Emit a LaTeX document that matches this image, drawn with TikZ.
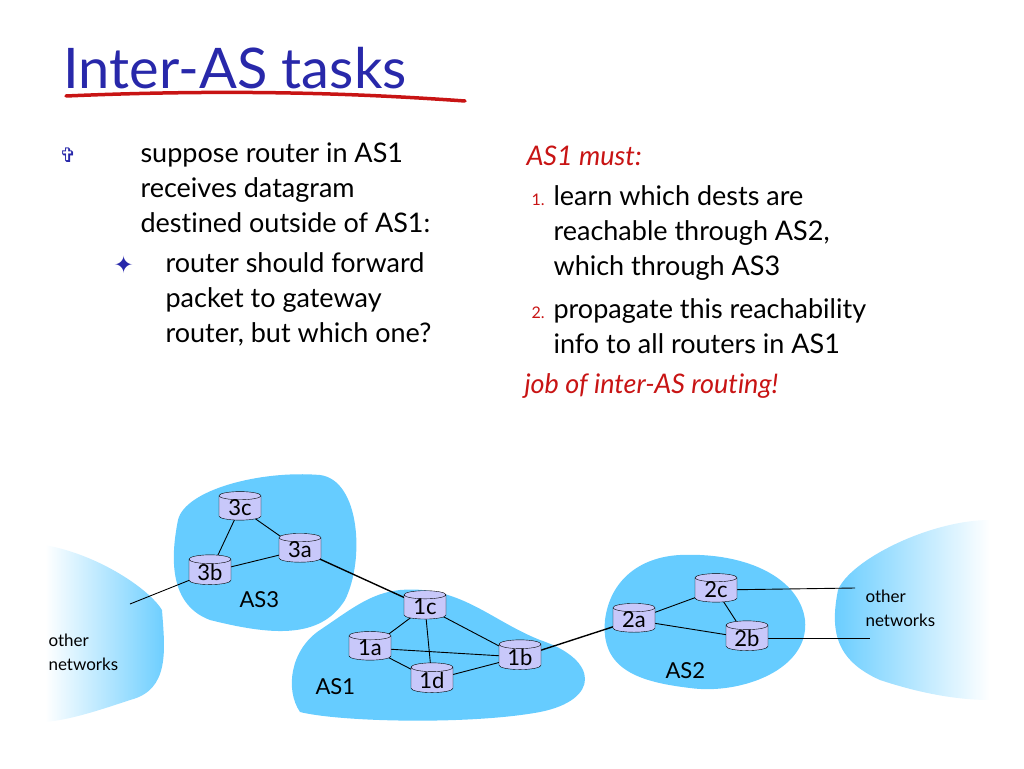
\documentclass[tikz,border=0pt]{standalone}
\usepackage{fontspec}
\setmainfont{Lato}[Ligatures={NoCommon,NoRare}]
\newfontfamily\symfont{DejaVu Sans}
\usetikzlibrary{shapes.geometric}
\definecolor{cloudblue}{RGB}{102,204,255}
\definecolor{routerfill}{RGB}{200,200,250}
\definecolor{titleblue}{RGB}{40,40,170}
\definecolor{mustred}{RGB}{200,20,20}
\begin{document}
\begin{tikzpicture}[x=1pt, y=-1pt,
    line/.style={anchor=base west, font=\fontsize{27}{33}\selectfont},
    redline/.style={line, text=mustred, font=\fontsize{27}{33}\selectfont\itshape},
    num/.style={anchor=base west, font=\fontsize{16}{18}\selectfont, text=mustred},
    cloud/.style={fill=cloudblue, draw=none},
    router/.style={cylinder, shape border rotate=90, aspect=0.35, draw, fill=routerfill,
        minimum width=42pt, minimum height=28pt, inner sep=0pt, font=\fontsize{22}{22}\selectfont},
    link/.style={draw, line width=0.9pt},
    small/.style={anchor=base west, font=\fontsize{17}{20}\selectfont}
]
    \useasboundingbox (0,0) rectangle (1024,768);
    % title
    \node[anchor=base west, text=titleblue, font=\fontsize{56}{60}\selectfont] (title) at (60,88) {Inter-AS tasks};
    \draw[mustred, line width=3.5pt, line cap=round] (66,96) .. controls (250,88) and (380,95) .. (465,101);
    % left column
    \node[anchor=base west, text=titleblue, font=\symfont\fontsize{20}{20}\selectfont] (b1) at (56,162) {✞};
    \node[line] (l1) at (137,162) {suppose router in AS1};
    \node[line] (l2) at (137,197) {receives datagram};
    \node[line] (l3) at (137,232) {destined outside of AS1:};
    \node[anchor=base west, text=titleblue, font=\symfont\fontsize{24}{24}\selectfont] (b2) at (110,273) {✦};
    \node[line] (l4) at (162,272) {router should forward};
    \node[line] (l5) at (162,307) {packet to gateway};
    \node[line] (l6) at (162,342) {router, but which one?};
    % right column
    \node[redline] (must) at (523,165) {AS1 must:};
    \node[num] (n1) at (528,205) {1.};
    \node[line] (r1) at (550,205) {learn which dests are};
    \node[line] (r2) at (550,240) {reachable through AS2,};
    \node[line] (r3) at (550,275) {which through AS3};
    \node[num] (n2) at (528,318) {2.};
    \node[line] (r4) at (550,318) {propagate this reachability};
    \node[line] (r5) at (550,353) {info to all routers in AS1};
    \node[redline] (job) at (521,393) {job of inter-AS routing!};

    % clouds
    \shade[left color=white, right color=cloudblue, draw=none]
        (45,545) .. controls (100,555) and (150,590) .. (162,610)
        .. controls (165,650) and (170,690) .. (130,700)
        .. controls (100,710) and (70,720) .. (45,722) -- cycle;
    \shade[left color=cloudblue, right color=white, draw=none]
        (990,520) .. controls (930,520) and (850,560) .. (838,590)
        .. controls (830,630) and (835,660) .. (880,680)
        .. controls (910,690) and (950,700) .. (990,700) -- cycle;
    \fill[cloud] (320,475) .. controls (360,480) and (365,560) .. (345,600)
        .. controls (320,640) and (270,635) .. (210,620)
        .. controls (170,605) and (170,560) .. (178,520)
        .. controls (185,490) and (260,470) .. (320,475) -- cycle;
    \fill[cloud] (400,590) .. controls (460,585) and (490,620) .. (540,640)
        .. controls (600,660) and (600,700) .. (540,712)
        .. controls (470,725) and (340,722) .. (300,712)
        .. controls (285,690) and (290,650) .. (320,630)
        .. controls (350,610) and (370,593) .. (400,590) -- cycle;
    \fill[cloud] (680,555) .. controls (750,552) and (800,580) .. (805,620)
        .. controls (810,670) and (740,695) .. (690,688)
        .. controls (640,682) and (600,670) .. (605,620)
        .. controls (610,580) and (640,557) .. (680,555) -- cycle;

    % links
    \coordinate (outl) at (130,604);
    \coordinate (outc) at (855,588);
    \coordinate (outb) at (870,638);
    \coordinate (p3c) at (240,508);
    \coordinate (p3a) at (300,550);
    \coordinate (p3b) at (210,572);
    \coordinate (p1c) at (425,607);
    \coordinate (p1a) at (370,648);
    \coordinate (p1d) at (432,680);
    \coordinate (p1b) at (520,657);
    \coordinate (p2a) at (634,620);
    \coordinate (p2c) at (716,590);
    \coordinate (p2b) at (747,638);
    \draw[link] (p3c) -- (p3a);
    \draw[link] (p3c) -- (p3b);
    \draw[link] (p3a) -- (p3b);
    \draw[link] (p3b) -- (outl);
    \draw[link, line width=1.4pt] (p3a) -- (p1c);
    \draw[link] (p1c) -- (p1a);
    \draw[link] (p1c) -- (p1d);
    \draw[link] (p1c) -- (p1b);
    \draw[link] (p1a) -- (p1b);
    \draw[link] (p1a) -- (p1d);
    \draw[link] (p1d) -- (p1b);
    \draw[link, line width=1.4pt] (p1b) -- (p2a);
    \draw[link] (p2a) -- (p2c);
    \draw[link] (p2a) -- (p2b);
    \draw[link] (p2c) -- (p2b);
    \draw[link] (p2c) -- (outc);
    \draw[link] (p2b) -- (outb);

    % routers
    \node[router] (r3c) at (p3c) {3c};
    \node[router] (r3a) at (p3a) {3a};
    \node[router] (r3b) at (p3b) {3b};
    \node[router] (r1c) at (p1c) {1c};
    \node[router] (r1a) at (p1a) {1a};
    \node[router] (r1d) at (p1d) {1d};
    \node[router] (r1b) at (p1b) {1b};
    \node[router] (r2a) at (p2a) {2a};
    \node[router] (r2c) at (p2c) {2c};
    \node[router] (r2b) at (p2b) {2b};

    % AS labels
    \node[small, font=\fontsize{22}{22}\selectfont] (as3) at (236,607) {AS3};
    \node[small, font=\fontsize{22}{22}\selectfont] (as1) at (312,694) {AS1};
    \node[small, font=\fontsize{22}{22}\selectfont] (as2) at (662,678) {AS2};
    \node[small] (othl1) at (45,646) {other};
    \node[small] (othl2) at (45,670) {networks};
    \node[small] (othr1) at (862,602) {other};
    \node[small] (othr2) at (862,626) {networks};
\end{tikzpicture}
\end{document}
